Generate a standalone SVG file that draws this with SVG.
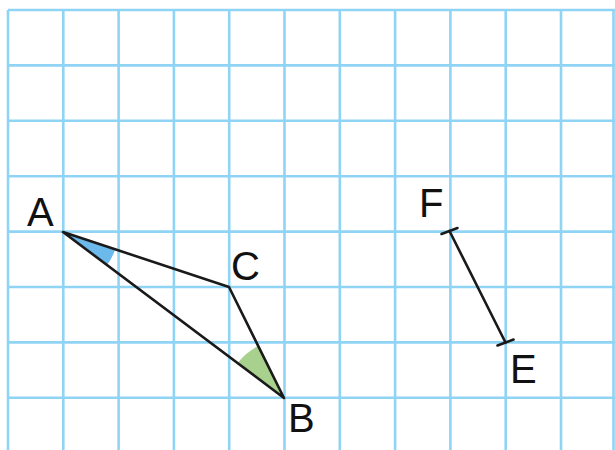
<svg xmlns="http://www.w3.org/2000/svg" width="615" height="450" viewBox="0 0 615 450">
<style>
.grid line{stroke:#8fd4f5;stroke-width:2.6}
.edge{stroke:#1a1a1a;stroke-width:2.6;fill:none;stroke-linejoin:round;stroke-linecap:round}
.lbl{font-family:"Liberation Sans",Arial,sans-serif;font-size:40px;fill:#111}
</style>
<rect width="615" height="450" fill="#ffffff"/>
<g class="grid">
<line x1="8" y1="10" x2="8" y2="450"/>
<line x1="63.3" y1="10" x2="63.3" y2="450"/>
<line x1="118.6" y1="10" x2="118.6" y2="450"/>
<line x1="173.9" y1="10" x2="173.9" y2="450"/>
<line x1="229.2" y1="10" x2="229.2" y2="450"/>
<line x1="284.5" y1="10" x2="284.5" y2="450"/>
<line x1="339.8" y1="10" x2="339.8" y2="450"/>
<line x1="395.1" y1="10" x2="395.1" y2="450"/>
<line x1="450.4" y1="10" x2="450.4" y2="450"/>
<line x1="505.7" y1="10" x2="505.7" y2="450"/>
<line x1="561" y1="10" x2="561" y2="450"/>
<line x1="613.5" y1="10" x2="613.5" y2="450"/>
<line x1="8" y1="10" x2="615" y2="10"/>
<line x1="8" y1="65.4" x2="615" y2="65.4"/>
<line x1="8" y1="120.8" x2="615" y2="120.8"/>
<line x1="8" y1="176.2" x2="615" y2="176.2"/>
<line x1="8" y1="231.6" x2="615" y2="231.6"/>
<line x1="8" y1="287" x2="615" y2="287"/>
<line x1="8" y1="342.4" x2="615" y2="342.4"/>
<line x1="8" y1="397.8" x2="615" y2="397.8"/>
</g>
<g id="angleA">
<path d="M63,232 L115.2,249.3 A55,55 0 0 1 107,265 Z" fill="#6cb9ec"/>
</g>
<g id="angleB">
<path d="M284,398 L237.6,363 A58,58 0 0 1 258.2,346 Z" fill="#a9d18e"/>
</g>
<g id="connectors">
<path class="edge" d="M63,232 L229,287 L284,398 Z"/>
<line class="edge" x1="449.5" y1="231" x2="505.5" y2="342.5"/>
<line class="edge" x1="441.5" y1="234" x2="457.5" y2="228"/>
<line class="edge" x1="497.5" y1="345.5" x2="513.5" y2="339.5"/>
</g>
<g id="A"><text class="lbl" x="27" y="226">A</text></g>
<g id="C"><text class="lbl" x="231" y="280">C</text></g>
<g id="B"><text class="lbl" x="288" y="432">B</text></g>
<g id="F"><text class="lbl" x="419" y="217">F</text></g>
<g id="E"><text class="lbl" x="510" y="383">E</text></g>
</svg>
